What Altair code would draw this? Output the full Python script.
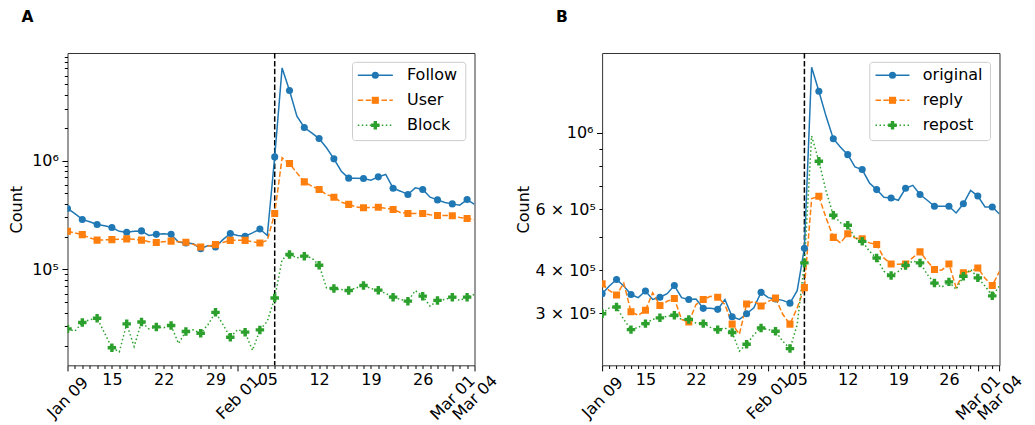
import altair as alt
import pandas as pd

dates = [d.strftime("%Y-%m-%d") for d in pd.date_range("2024-01-09", "2024-03-04", freq="D")]
major_dates = ["2024-01-09", "2024-02-01", "2024-03-01", "2024-03-04"]
week_dates = ["2024-01-15", "2024-01-22", "2024-01-29", "2024-02-05", "2024-02-12", "2024-02-19", "2024-02-26"]
event_date = "2024-02-06"

# Panel A values (thousands)
follow = [363, 325, 288, 274, 259, 252, 243, 224, 220, 224, 226, 205, 210, 213, 210, 179, 175, 172, 155, 166,
          161, 188, 214, 205, 202, 217, 235, 205, 1080, 7080, 4390, 2550, 2010, 1790, 1590, 1310, 1036, 798, 689, 689,
          684, 661, 708, 744, 557, 523, 488, 561, 542, 461, 435, 412, 400, 389, 438, 395]
user = [224, 216, 209, 195, 186, 187, 188, 189, 191, 189, 186, 180, 177, 180, 182, 180, 178, 170, 161, 164,
        169, 177, 185, 185, 185, 180, 175, 185, 327, 1060, 938, 770, 637, 581, 542, 488, 460, 414, 396, 375,
        368, 370, 372, 365, 355, 334, 326, 327, 326, 318, 313, 313, 311, 300, 294, 287]
block = [28.5, 27.2, 32.6, 34.5, 35.7, 26.2, 19.1, 17.5, 31.7, 19.6, 33.0, 28.5, 29.7, 29.2, 30.6, 20.9, 27.0, 27.9,
         26.0, 31.3, 40.4, 31.3, 23.9, 28.1, 26.6, 18.1, 27.9, 33.5, 54.8, 123.6, 137.3, 127.9, 132.5, 127.9, 109.5,
         67.8, 66.9, 65.5, 64.1, 67.8, 71.3, 66.9, 64.6, 60.2, 55.7, 53.1, 51.2, 64.1, 56.9, 46.0, 52.0, 53.1, 55.7,
         52.0, 55.7, 59.0]

# Panel B values (thousands)
original = [342, 360, 376, 360, 340, 333, 348, 329, 334, 342, 361, 333, 329, 330, 310, 310, 308, 329, 293, 288,
            299, 311, 345, 333, 330, 327, 321, 349, 463, 1550, 1320, 1117, 962, 909, 865, 797, 783, 716, 685, 651,
            648, 638, 691, 705, 663, 638, 613, 613, 613, 586, 623, 681, 656, 610, 610, 582]
reply = [365, 349, 339, 367, 303, 296, 306, 344, 316, 325, 331, 288, 283, 318, 329, 336, 334, 318, 279, 261,
         319, 325, 315, 325, 332, 298, 279, 311, 356, 645, 655, 567, 498, 480, 510, 496, 493, 480, 475, 434,
         417, 416, 417, 435, 452, 425, 402, 400, 417, 356, 393, 397, 406, 379, 361, 397]
repost = [299, 311, 313, 288, 269, 273, 280, 288, 291, 294, 296, 288, 288, 281, 280, 273, 269, 272, 264, 233,
          244, 260, 272, 269, 266, 249, 237, 278, 420, 980, 828, 678, 577, 549, 540, 496, 485, 454, 434, 397,
          386, 397, 413, 425, 420, 389, 367, 357, 370, 352, 384, 402, 380, 360, 337, 360]

names_a = ["Follow", "User", "Block"]
names_b = ["original", "reply", "repost"]
colors = ["#1f77b4", "#ff7f0e", "#2ca02c"]
dashes = [None, [5.5, 2.4], [1.5, 2.5]]
shapes = ["circle", "square", "cross"]
msizes = [50, 50, 72]

FONT = "DejaVu Sans"


def ms(d):
    return int(pd.Timestamp(d).value // 10**6)


def date_test(lst):
    return "indexof([" + ",".join("'%s'" % d for d in lst) + "], utcFormat(datum.value, '%Y-%m-%d')) >= 0"


def panel(letter, names, series, width, height, ydomain, yvalues, ylabel_expr, ymajor_test, title_x, leg):
    rows = []
    for name, vals in zip(names, series):
        for i, (d, v) in enumerate(zip(dates, vals)):
            rows.append({"date": d, "series": name, "value": v * 1000.0, "marker": i % 2 == 0})
    df = pd.DataFrame(rows)

    xs = alt.Scale(type="utc", domain=[ms(dates[0]), ms(dates[-1])], nice=False)
    ys = alt.Scale(type="log", domain=ydomain, nice=False)

    x_axis_minor = alt.Axis(
        values=[ms(d) for d in dates],
        labelExpr=date_test(week_dates) + " ? utcFormat(datum.value, '%d') : ''",
        labelAngle=0, labelAlign="center", labelBaseline="top", labelPadding=3,
        tickSize={"condition": {"test": date_test(major_dates), "value": 5.6}, "value": 3.2},
        tickColor="black", tickWidth=1, domain=False, grid=False, labelOverlap=False,
        labelFlush=False, title=None, orient="bottom", labelFontSize=16,
    )
    x_axis_major = alt.Axis(
        values=[ms(d) for d in major_dates],
        labelExpr="utcFormat(datum.value, '%b %d')",
        labelAngle=315, labelAlign="center", labelBaseline="middle", labelPadding=32,
        ticks=False, tickSize=0, domain=False, grid=False, labelOverlap=False,
        labelFlush=False, title=None, orient="bottom", labelFontSize=16,
    )
    y_axis = alt.Axis(
        values=yvalues, labelExpr=ylabel_expr,
        tickSize={"condition": {"test": ymajor_test, "value": 5.6}, "value": 3.2},
        labelPadding=3.5, tickColor="black", tickWidth=1, domain=False, grid=False,
        labelOverlap=False, labelFontSize=16, orient="left",
        title="Count", titleX=title_x, titleY=height / 2, titleAngle=270,
        titleAlign="center", titleBaseline="middle", titleFontWeight="normal", titleFontSize=16,
    )

    rule = alt.Chart(pd.DataFrame({"date": [event_date]})).mark_rule(
        color="black", strokeDash=[5.5, 2.4], strokeWidth=1.5
    ).encode(x=alt.X("date:T", scale=xs, axis=x_axis_major))

    lines = []
    points = []
    for i, name in enumerate(names):
        kw = dict(color=colors[i], strokeWidth=1.5, clip=True)
        if dashes[i] is not None:
            kw["strokeDash"] = dashes[i]
        lines.append(
            alt.Chart(df).transform_filter(alt.datum.series == name).mark_line(**kw).encode(
                x=alt.X("date:T", scale=xs, axis=x_axis_minor if i == 0 else None),
                y=alt.Y("value:Q", scale=ys, axis=y_axis if i == 0 else None),
            )
        )
        points.append(
            alt.Chart(df).transform_filter((alt.datum.series == name) & alt.datum.marker).mark_point(
                filled=True, shape=shapes[i], size=msizes[i], color=colors[i], opacity=1, clip=True
            ).encode(
                x=alt.X("date:T", scale=xs, axis=None),
                y=alt.Y("value:Q", scale=ys, axis=None),
            )
        )

    fl, fr, ft, fb, lx0, lx1, tx = leg
    one = pd.DataFrame({"k": [0]})
    frame = alt.Chart(one).mark_rect(
        fill="white", fillOpacity=0.8, stroke="#cccccc", strokeWidth=1, cornerRadius=3
    ).encode(x=alt.value(fl), x2=alt.value(fr), y=alt.value(ft), y2=alt.value(fb))
    legend_layers = [frame]
    row_y = [ft + 13, ft + 38, ft + 63]
    for i, name in enumerate(names):
        kw = dict(color=colors[i], strokeWidth=1.5)
        if dashes[i] is not None:
            kw["strokeDash"] = dashes[i]
        ldf = pd.DataFrame({"name": [name]})
        legend_layers.append(alt.Chart(ldf).mark_rule(**kw).encode(
            x=alt.value(lx0), x2=alt.value(lx1), y=alt.value(row_y[i])))
        legend_layers.append(alt.Chart(ldf).mark_point(
            filled=True, shape=shapes[i], size=msizes[i], color=colors[i], opacity=1
        ).encode(x=alt.value((lx0 + lx1) / 2), y=alt.value(row_y[i])))
        legend_layers.append(alt.Chart(ldf).mark_text(
            align="left", baseline="middle", fontSize=16, font=FONT, color="black"
        ).encode(x=alt.value(tx), y=alt.value(row_y[i]), text="name:N"))

    letter_layer = alt.Chart(pd.DataFrame({"t": [letter]})).mark_text(
        align="left", baseline="top", fontSize=15.5, fontWeight="bold", font=FONT, color="black"
    ).encode(x=alt.value(-46), y=alt.value(-42.7), text="t:N")

    return alt.layer(rule, *lines, *points, *legend_layers, letter_layer).resolve_axis(
        x="independent", y="independent"
    ).properties(width=width, height=height)


H = 312.3
yvals_a = [k * 10**4 for k in range(2, 10)] + [k * 10**5 for k in range(1, 10)] + [k * 10**6 for k in range(1, 10)]
label_a = "datum.value == 100000 ? '10\u2075' : datum.value == 1000000 ? '10\u2076' : ''"
panel_a = panel("A", names_a, [follow, user, block], 407, H, [13200, 9.7e6], yvals_a, label_a,
                "datum.value == 100000 || datum.value == 1000000", -51,
                (285, 398.3, 9.3, 87.6, 290.3, 325.3, 339.5))

yvals_b = [k * 10**5 for k in range(3, 10)] + [10**6]
label_b = ("datum.value == 1000000 ? '10\u2076' : datum.value == 600000 ? '6 \u00d7 10\u2075' : "
           "datum.value == 400000 ? '4 \u00d7 10\u2075' : datum.value == 300000 ? '3 \u00d7 10\u2075' : ''")
panel_b = panel("B", names_b, [original, reply, repost], 397.4, H, [2.12e5, 1.705e6], yvals_b, label_b,
                "datum.value == 1000000", -78.3,
                (267.7, 388.4, 9.3, 87.6, 273.4, 307.4, 320.7))

chart = alt.hconcat(panel_a, panel_b, spacing=127.6, bounds="flush").properties(
    padding={"left": 7.5, "top": 9, "right": 5, "bottom": 5}
).configure_view(stroke="#333333", strokeWidth=1).configure_axis(
    labelFont=FONT, titleFont=FONT, labelColor="black", titleColor="black"
).configure_text(font=FONT)

chart.save("out.html", embed_options={"renderer": "svg", "actions": False})
